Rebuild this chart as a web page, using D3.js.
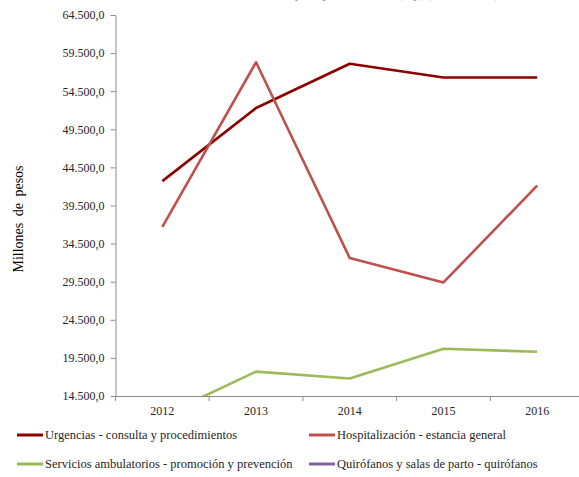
<!DOCTYPE html>
<html>
<head>
<meta charset="utf-8">
<title>Millones de pesos por servicio</title>
<script src="https://cdn.jsdelivr.net/npm/d3@7"></script>
<style>
  body { margin: 0; background: #fff; }
  svg { display: block; }
  .axis path, .axis line { stroke: #8c8c8c; }
  .axis text { fill: #262626; font-size: 12px; }
</style>
</head>
<body>
<svg id="chart"></svg>
<script>
// data
var years = ["2012", "2013", "2014", "2015", "2016"];
var urgencias = [42700, 52300, 58100, 56300, 56300];
var hospitalizacion = [36700, 58300, 32600, 29400, 42100];
var ambulatorios = [11900, 17700, 16800, 20700, 20300];
var quirofanos = [5000, 5500, 5800, 6000, 6200]; // below the visible range
var seriesNames = ["Urgencias - consulta y procedimientos", "Hospitalización - estancia general",
                   "Servicios ambulatorios - promoción y prevención", "Quirófanos y salas de parto - quirófanos"];
var yTicks = [14500, 19500, 24500, 29500, 34500, 39500, 44500, 49500, 54500, 59500, 64500];

var width = 579, height = 477;
var margin = {top: 15, left: 115.5, right: -5, bottom: 81};
var colors = ["#8c0000", "#c0504d", "#9bbb59", "#8064a2"];
var series = [urgencias, hospitalizacion, ambulatorios, quirofanos];
var serif = "'Liberation Serif', 'Times New Roman', Times, serif";

var svg = d3.select("#chart").attr("width", width).attr("height", height);

var x = d3.scaleBand().domain(years).range([margin.left, width - margin.right]).padding(0);
var y = d3.scaleLinear().domain([14500, 64500]).range([height - margin.bottom, margin.top]);

var es = d3.formatLocale({decimal: ",", thousands: ".", grouping: [3], currency: ["$", ""]});
var fmt = es.format(",.1f");

// title, cut off at the top edge as in the source
svg.append("text")
  .attr("x", 380).attr("y", -2)
  .attr("text-anchor", "middle")
  .style("font-size", "13px")
  .style("fill", "#8c8c8c")
  .text("Gasto por tipo de servicio (mp) (2012 - 2016)");

// y axis
svg.append("g")
  .attr("class", "axis")
  .attr("transform", "translate(" + margin.left + ",0)")
  .call(d3.axisLeft(y).tickValues(yTicks).tickFormat(fmt).tickSize(5).tickPadding(6).tickSizeOuter(0));

// x axis
var xAxis = svg.append("g")
  .attr("class", "axis")
  .attr("transform", "translate(0," + y(14500) + ")")
  .call(d3.axisBottom(x).tickSize(0).tickPadding(10).tickSizeOuter(0));
xAxis.selectAll(".bound")
  .data(years.concat(["end"]))
  .enter().append("line")
  .attr("class", "bound")
  .attr("x1", function(d, i) { return margin.left + i * x.step(); })
  .attr("x2", function(d, i) { return margin.left + i * x.step(); })
  .attr("y1", 0).attr("y2", 5);

// y label
svg.append("text")
  .attr("transform", "translate(23," + 219 + ")rotate(-90)")
  .attr("text-anchor", "middle")
  .style("font-size", "14px")
  .style("fill", "#000")
  .style("word-spacing", "3px")
  .text("Millones de pesos");

// lines
svg.append("clipPath").attr("id", "plot")
  .append("rect")
  .attr("x", margin.left).attr("y", margin.top)
  .attr("width", width - margin.left).attr("height", y(14500) - margin.top);

var line = d3.line()
  .x(function(d, i) { return x(years[i]) + x.bandwidth() / 2; })
  .y(function(d) { return y(d); });

svg.append("g").attr("clip-path", "url(#plot)")
  .selectAll("path")
  .data(series)
  .enter().append("path")
  .attr("d", line)
  .attr("fill", "none")
  .attr("stroke", function(d, i) { return colors[i]; })
  .attr("stroke-width", 2.6)
  .attr("stroke-linejoin", "round");

// legend
var legend = svg.append("g");
var lg = legend.selectAll("g")
  .data(seriesNames)
  .enter().append("g")
  .attr("transform", function(d, i) {
    return "translate(" + (i % 2 ? 309 : 17) + "," + (i < 2 ? 435 : 464) + ")";
  });
lg.append("line")
  .attr("x1", 0).attr("x2", 26)
  .attr("stroke", function(d, i) { return colors[i]; })
  .attr("stroke-width", 3);
lg.append("text")
  .attr("x", 28).attr("y", 4)
  .style("font-size", "12.5px")
  .style("fill", "#262626")
  .text(function(d) { return d; });

// all text in the serif face
svg.selectAll("text").style("font-family", serif);
</script>
</body>
</html>
